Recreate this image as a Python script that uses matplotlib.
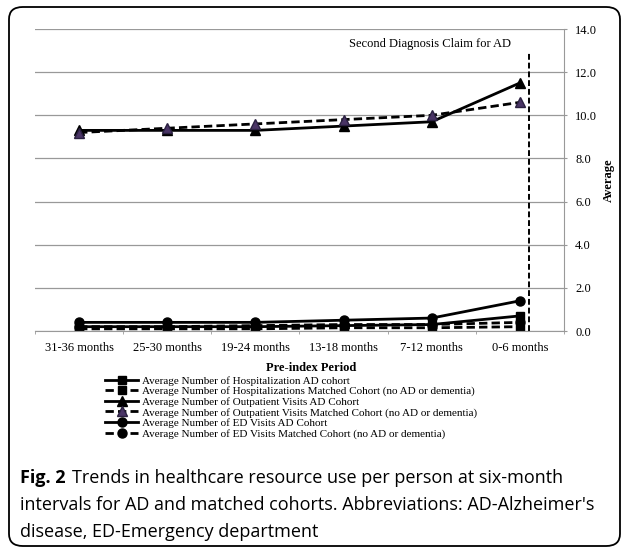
import matplotlib
matplotlib.use("Agg")
import matplotlib.pyplot as plt
from matplotlib.patches import FancyBboxPatch
from matplotlib.ticker import FormatStrFormatter, FixedLocator

categories = ["31-36 months", "25-30 months", "19-24 months", "13-18 months", "7-12 months", "0-6 months"]
hosp_ad = [0.2, 0.2, 0.2, 0.25, 0.3, 0.7]
hosp_matched = [0.1, 0.1, 0.1, 0.15, 0.15, 0.2]
outp_ad = [9.3, 9.3, 9.3, 9.5, 9.7, 11.5]
outp_matched = [9.2, 9.4, 9.6, 9.8, 10.0, 10.6]
ed_ad = [0.4, 0.4, 0.4, 0.5, 0.6, 1.4]
ed_matched = [0.2, 0.2, 0.25, 0.3, 0.3, 0.4]
labels = [
    "Average Number of Hospitalization AD cohort",
    "Average Number of Hospitalizations Matched Cohort (no AD or dementia)",
    "Average Number of Outpatient Visits AD Cohort",
    "Average Number of Outpatient Visits Matched Cohort (no AD or dementia)",
    "Average Number of ED Visits AD Cohort",
    "Average Number of ED Visits Matched Cohort (no AD or dementia)",
]
yticks = [0, 2, 4, 6, 8, 10, 12, 14]
marker_line_x = 5.1
marker_line_top = 13.0

serif = ["Liberation Serif", "DejaVu Serif"]
W, H = 627, 553
fig = plt.figure(figsize=(W / 100, H / 100), dpi=100)

# rounded frame
frame = FancyBboxPatch((9 / W, 7 / H), 611 / W, 539 / H,
                       boxstyle="round,pad=0,rounding_size=0.022",
                       transform=fig.transFigure, fill=False, ec="black", lw=1.3)
fig.patches.append(frame)

ax = fig.add_axes([35 / W, 1 - 331 / H, 529 / W, 302 / H])
x = list(range(len(categories)))
dash = (0, (3, 1.5))

ax.plot(x, hosp_ad, color="black", lw=2, marker="s", ms=6, label=labels[0])
ax.plot(x, hosp_matched, color="black", lw=2, ls=dash, marker="s", ms=6, label=labels[1])
ax.plot(x, outp_ad, color="black", lw=2, marker="^", ms=6.5, label=labels[2])
ax.plot(x, outp_matched, color="black", lw=2, ls=dash, marker="^", ms=6.5,
        mfc="#4a3566", mec="#2a2040", label=labels[3])
ax.plot(x, ed_ad, color="black", lw=2, marker="o", ms=6.5, label=labels[4])
ax.plot(x, ed_matched, color="black", lw=2, ls=dash, marker="o", ms=6.5, label=labels[5])

ax.plot([marker_line_x, marker_line_x], [0, marker_line_top], color="black", lw=1.4, ls=(0, (3, 1.5)))
ax.text(4.9, 13.18, "Second Diagnosis Claim for AD", ha="right", va="baseline",
        fontsize=9, family=serif)

ax.set_xlim(-0.5, 5.5)
ax.set_ylim(0, 14)
ax.set_yticks(yticks)
ax.yaxis.set_major_formatter(FormatStrFormatter("%.1f"))
ax.yaxis.tick_right()
ax.yaxis.set_label_position("right")
ax.grid(axis="y", color="#999999", lw=0.9)
ax.set_axisbelow(True)
for s in ["left", "top"]:
    ax.spines[s].set_visible(False)
for s in ["right", "bottom"]:
    ax.spines[s].set_color("#999999")
ax.tick_params(axis="y", length=2.5, color="#999999", labelsize=9, pad=5.5)
ax.set_xticks(x)
ax.set_xticklabels(categories, fontsize=9, family=serif)
ax.tick_params(axis="x", length=0, pad=8)
ax.xaxis.set_minor_locator(FixedLocator([i + 0.5 for i in range(-1, 6)]))
ax.tick_params(axis="x", which="minor", length=2.5, color="#999999")
for lab in ax.get_yticklabels():
    lab.set_family(serif)
ax.set_ylabel("Average", fontsize=9, fontweight="bold", family=serif, labelpad=4)

fig.text(311 / W, 1 - 368 / H, "Pre-index Period", fontsize=9, fontweight="bold",
         family=serif, ha="center", va="center")

leg = fig.legend(loc="upper left", bbox_to_anchor=(105 / W, 1 - 376 / H), frameon=False,
                 prop={"family": serif, "size": 8}, handlelength=3.0, handletextpad=0.3,
                 labelspacing=0.06, borderpad=0, borderaxespad=0)

# caption
cap_font = ["Open Sans", "DejaVu Sans"]
cap_size = 13
fig.canvas.draw()
r = fig.canvas.get_renderer()
t0 = fig.text(20 / W, 1 - 478 / H, "Fig. 2", fontsize=cap_size, fontweight="bold",
              family=cap_font, va="center")
bb = t0.get_window_extent(renderer=r)
fig.text((bb.x1 + 6) / W, 1 - 478 / H, "Trends in healthcare resource use per person at six-month",
         fontsize=cap_size, family=cap_font, va="center")
fig.text(20 / W, 1 - 505 / H, "intervals for AD and matched cohorts. Abbreviations: AD-Alzheimer's",
         fontsize=cap_size, family=cap_font, va="center")
fig.text(20 / W, 1 - 532 / H, "disease, ED-Emergency department",
         fontsize=cap_size, family=cap_font, va="center")

fig.savefig("out.png", dpi=100)
